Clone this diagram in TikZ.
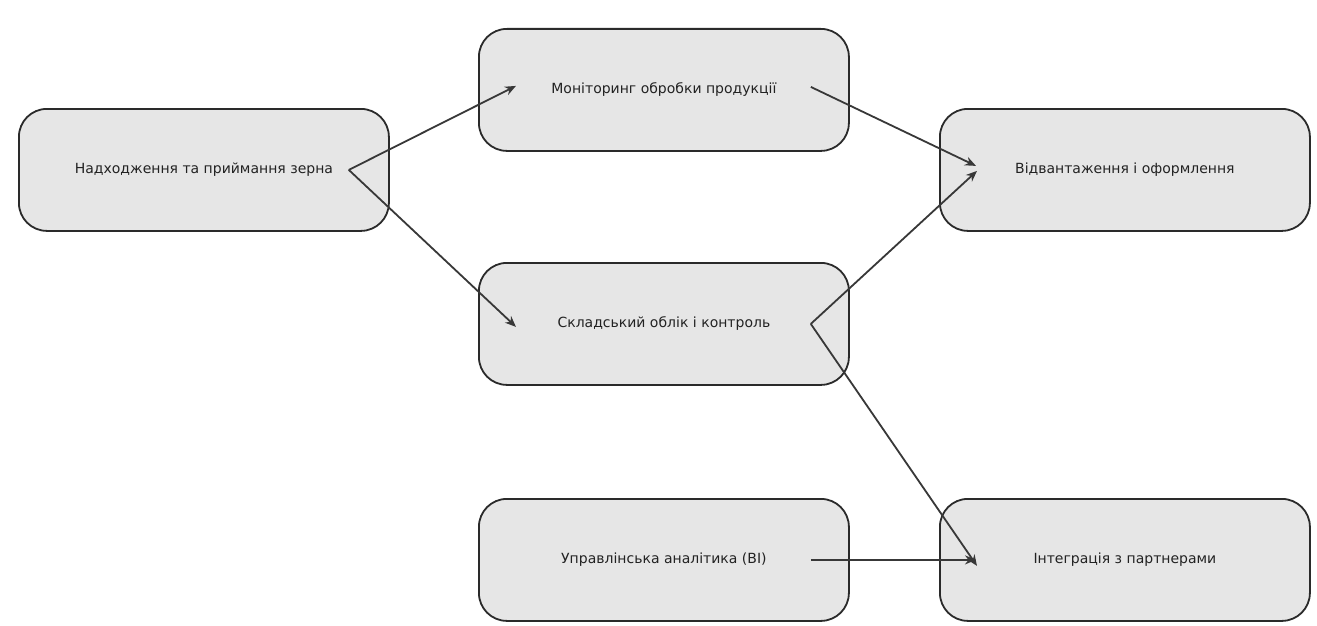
\documentclass[tikz,border=0pt]{standalone}
\usepackage{fontspec}
\setmainfont{DejaVu Sans}
\usetikzlibrary{arrows.meta}
\definecolor{boxfill}{HTML}{E6E6E6}
\definecolor{boxline}{HTML}{2A2A2A}
\definecolor{arrowcol}{HTML}{383838}
\definecolor{txt}{HTML}{222222}
\begin{document}
\begin{tikzpicture}[x=1pt,y=-1pt,
  box/.style={draw=boxline, line width=1.8pt, fill=boxfill, rounded corners=28pt,
    minimum width=370pt, minimum height=122pt, inner sep=0pt, anchor=north west,
    font=\fontsize{14}{17}\selectfont, text=txt},
  conn/.style={draw=arrowcol, line width=1.8pt, -{Stealth[length=11pt,width=9pt]}}]
\useasboundingbox (0,0) rectangle (1317,626);
\fill[white] (0,0) rectangle (1317,626);
\node[box] (n1) at (18,108) {Надходження та приймання зерна};
\node[box] (n2) at (478,28) {Моніторинг обробки продукції};
\node[box] (n3) at (939,108) {Відвантаження і оформлення};
\node[box] (n4) at (478,262) {Складський облік і контроль};
\node[box] (n5) at (478,498) {Управлінська аналітика (BI)};
\node[box] (n6) at (939,498) {Інтеграція з партнерами};
\coordinate (s1) at ([xshift=-41pt]n1.east);
\coordinate (s2) at ([xshift=-39pt,yshift=3pt]n2.east);
\coordinate (s4) at ([xshift=-39pt]n4.east);
\coordinate (s5) at ([xshift=-39pt]n5.east);
\coordinate (t2) at ([xshift=38pt,yshift=4pt]n2.west);
\coordinate (t4) at ([xshift=38pt,yshift=-3pt]n4.west);
\coordinate (t3a) at ([xshift=37pt,yshift=4pt]n3.west);
\coordinate (t3b) at ([xshift=38pt,yshift=-1pt]n3.west);
\coordinate (t6a) at ([xshift=38pt,yshift=-6pt]n6.west);
\coordinate (t6b) at ([xshift=37pt]n6.west);
\draw[conn] (s1) -- (t2);
\draw[conn] (s1) -- (t4);
\draw[conn] (s2) -- (t3a);
\draw[conn] (s4) -- (t3b);
\draw[conn] (s4) -- (t6a);
\draw[conn] (s5) -- (t6b);
\end{tikzpicture}
\end{document}
